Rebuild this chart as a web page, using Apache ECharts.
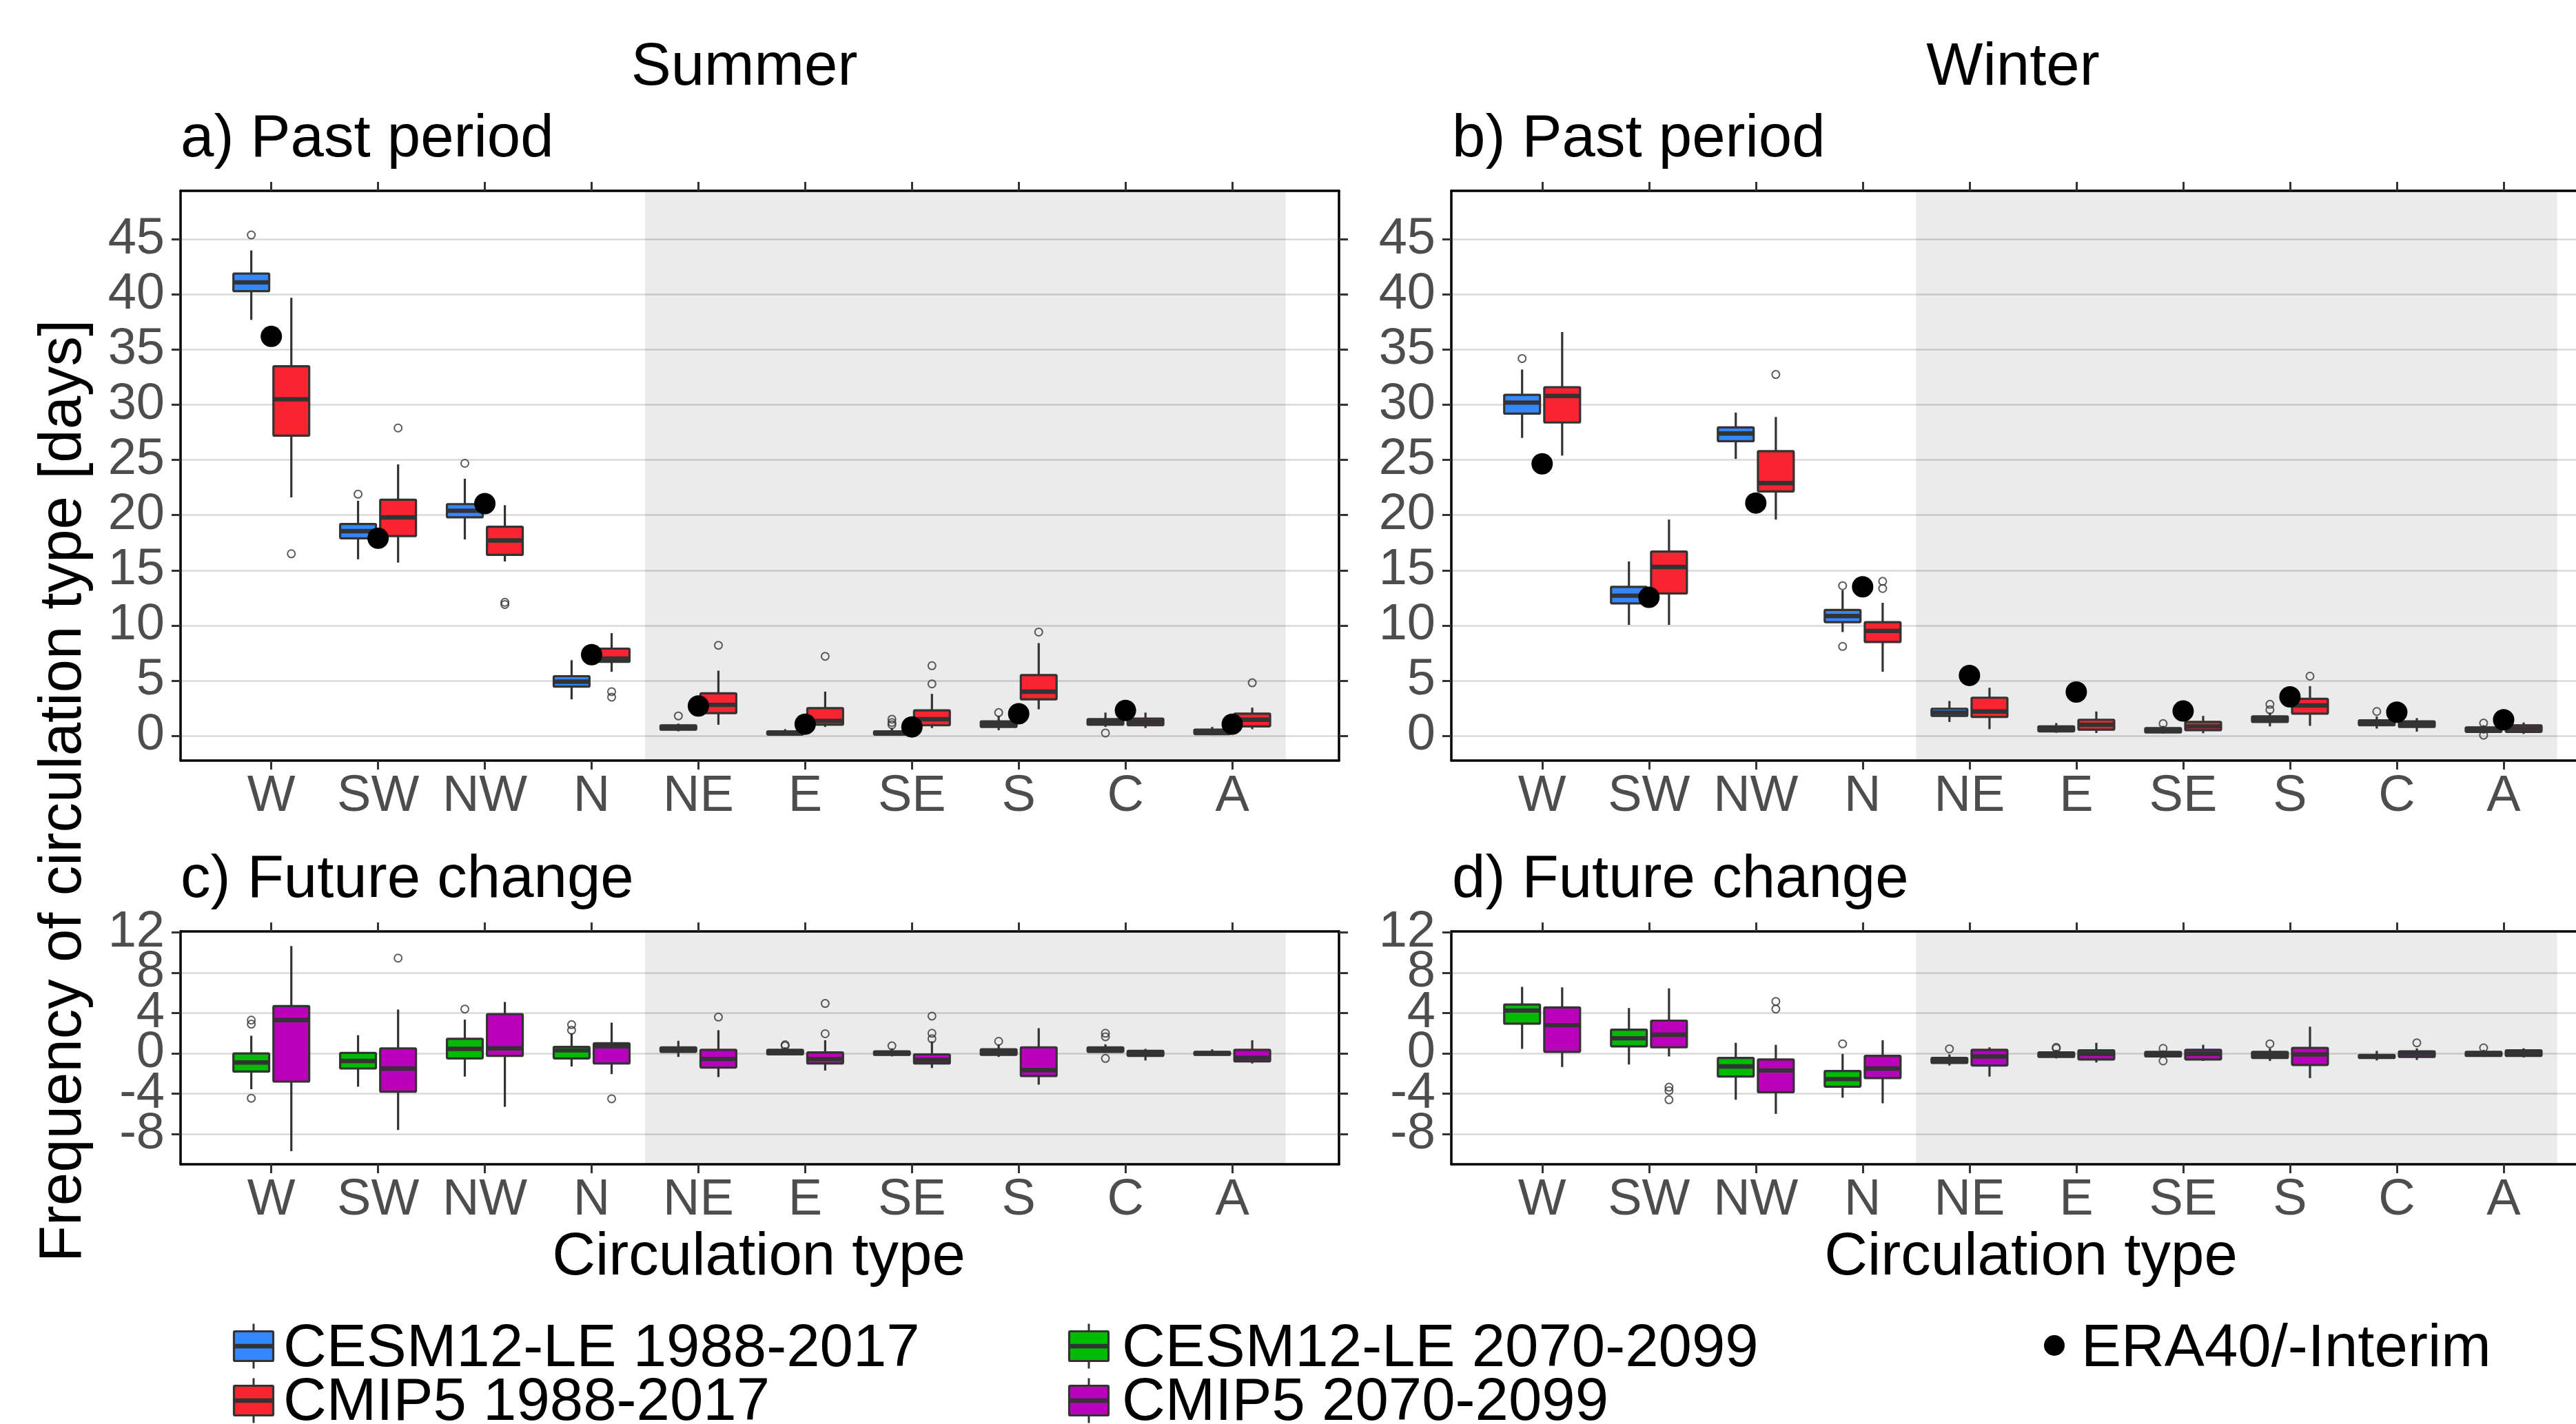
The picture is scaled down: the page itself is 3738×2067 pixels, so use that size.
<!DOCTYPE html>
<html>
<head>
<meta charset="utf-8">
<script src="https://cdn.jsdelivr.net/npm/echarts@6/dist/echarts.min.js"></script>
<style>
html,body{margin:0;padding:0;background:#fff;}
#chart{width:3738px;height:2067px;}
</style>
</head>
<body>
<div id="chart"></div>
<script>
// ---------------- data ----------------
const categories = ['W','SW','NW','N','NE','E','SE','S','C','A'];
const shadedFrom = 'NE';

const pastTicks = [0,5,10,15,20,25,30,35,40,45];
const futureTicks = [-8,-4,0,4,8,12];
const futureGrid = [-8,-4,0,4,8];

// [min, Q1, median, Q3, max] per category
const summerCesmPast = [[37.7,40.3,41.1,41.9,44.0],[16.0,17.9,18.55,19.2,21.3],[17.8,19.8,20.4,21.0,23.3],[3.3,4.45,4.9,5.4,6.85],[0.4,0.55,0.75,0.95,1.1],[0.05,0.1,0.25,0.4,0.6],[0.0,0.1,0.25,0.4,0.7],[0.5,0.8,1.05,1.3,1.8],[0.8,1.0,1.25,1.5,2.1],[0.05,0.15,0.35,0.55,0.8]];
const summerCesmPastOut = [[45.4],[21.9],[24.7],[],[1.8],[],[1.5,1.2,1.0],[2.1],[0.25],[]];
const summerCmipPast = [[21.6,27.2,30.5,33.5,39.7],[15.7,18.1,19.8,21.4,24.6],[15.8,16.4,17.7,18.95,20.9],[5.8,6.7,7.0,7.9,9.3],[1.0,2.05,2.8,3.85,5.9],[0.8,1.0,1.35,2.5,4.0],[0.7,0.95,1.5,2.3,3.8],[2.4,3.3,4.0,5.5,8.4],[0.7,0.95,1.25,1.55,2.1],[0.6,0.85,1.45,2.0,2.55]];
const summerCmipPastOut = [[16.5],[27.9],[12.1,11.9],[4.0,3.5],[8.2],[7.2],[4.7,6.35],[9.4],[],[4.8]];
const summerEra = [36.2,17.9,21.05,7.35,2.7,1.05,0.8,2.0,2.3,1.05];

const winterCesmPast = [[27.0,29.2,30.2,30.9,33.2],[10.05,12.0,12.7,13.5,15.8],[25.1,26.7,27.4,27.95,29.3],[9.4,10.3,10.85,11.4,13.2],[1.25,1.8,2.1,2.45,3.15],[0.27,0.4,0.63,0.85,1.15],[0.2,0.3,0.5,0.7,0.9],[0.85,1.25,1.5,1.75,2.1],[0.65,0.95,1.2,1.4,1.75],[0.2,0.35,0.55,0.75,0.95]];
const winterCesmPastOut = [[34.2],[],[],[13.6,8.1],[],[],[1.1],[2.85,2.35],[2.2],[1.15,0.05]];
const winterCmipPast = [[25.4,28.4,30.8,31.6,36.6],[10.05,12.9,15.3,16.7,19.6],[19.6,22.15,22.9,25.8,28.9],[5.8,8.5,9.5,10.3,12.05],[0.6,1.7,2.2,3.45,4.35],[0.25,0.55,1.0,1.45,2.2],[0.23,0.5,0.85,1.25,1.8],[0.9,2.0,2.75,3.35,4.5],[0.37,0.8,1.05,1.3,1.6],[0.17,0.35,0.65,0.95,1.2]];
const winterCmipPastOut = [[],[],[32.75],[14.0,13.35],[],[],[],[5.4],[],[]];
const winterEra = [24.65,12.55,21.1,13.5,5.47,3.96,2.24,3.53,2.14,1.45];

const summerCesmFuture = [[-3.55,-1.8,-0.9,0.0,1.75],[-3.3,-1.5,-0.75,0.05,1.8],[-2.3,-0.5,0.45,1.45,3.35],[-1.3,-0.5,0.3,0.65,2.0],[-0.35,0.15,0.4,0.6,1.25],[-0.2,-0.1,0.15,0.35,0.6],[-0.3,-0.15,0.0,0.2,0.5],[-0.35,-0.15,0.15,0.4,0.9],[0.05,0.15,0.4,0.6,0.9],[-0.2,-0.15,0.0,0.15,0.4]];
const summerCesmFutureOut = [[3.3,2.9,-4.45],[],[4.4],[2.85,2.3],[],[0.85,0.75],[0.75],[1.2],[2.0,1.65,-0.5],[]];
const summerCmipFuture = [[-9.7,-2.8,3.3,4.7,10.65],[-7.6,-3.8,-1.5,0.5,4.35],[-5.3,-0.25,0.5,3.9,5.1],[-2.05,-1.0,0.7,1.0,3.05],[-2.35,-1.4,-0.55,0.35,2.3],[-1.7,-1.0,-0.55,0.1,1.3],[-1.45,-1.0,-0.65,-0.1,1.2],[-3.1,-2.25,-1.65,0.6,2.5],[-0.7,-0.25,0.0,0.25,0.45],[-1.0,-0.8,-0.45,0.35,1.3]];
const summerCmipFutureOut = [[],[9.45],[],[-4.5],[3.6],[1.95,4.95],[1.45,2.0,3.7],[],[],[]];

const winterCesmFuture = [[0.45,2.95,4.25,4.85,6.6],[-1.1,0.7,1.5,2.35,4.5],[-4.6,-2.3,-1.3,-0.45,1.05],[-4.4,-3.3,-2.55,-1.75,-0.05],[-1.2,-0.95,-0.7,-0.45,-0.1],[-0.5,-0.35,-0.05,0.1,0.35],[-0.4,-0.3,-0.05,0.15,0.3],[-0.75,-0.45,-0.15,0.15,0.5],[-0.7,-0.45,-0.3,-0.15,0.25],[-0.35,-0.25,0.0,0.15,0.35]];
const winterCesmFutureOut = [[],[],[],[0.95],[0.45],[0.6,0.5],[0.5,-0.75],[0.95],[],[0.55]];
const winterCmipFuture = [[-1.35,0.15,2.8,4.55,6.55],[-0.3,0.6,1.85,3.25,6.45],[-6.0,-3.85,-1.7,-0.6,0.85],[-4.95,-2.45,-1.5,-0.25,1.3],[-2.3,-1.2,-0.3,0.35,0.6],[-0.9,-0.6,-0.05,0.3,1.05],[-0.75,-0.6,-0.05,0.35,0.85],[-2.45,-1.15,-0.1,0.55,2.65],[-0.65,-0.35,0.0,0.2,0.5],[-0.4,-0.25,0.0,0.3,0.5]];
const winterCmipFutureOut = [[],[-3.35,-3.7,-4.6],[5.15,4.4],[],[],[],[],[],[1.05],[]];

const legendNames = ['CESM12-LE 1988-2017','CMIP5 1988-2017','CESM12-LE 2070-2099','CMIP5 2070-2099','ERA40/-Interim'];

// ---------------- style ----------------
const FONT = "'Liberation Sans', Arial, Helvetica, sans-serif";
const C_BLUE = '#3388FF', C_RED = '#F8242F', C_GREEN = '#00BB00', C_MAG = '#BB00BB';
const DARK = '#333333';
const BOX_W = 0.335, DODGE = 0.1875;
const X_MIN = 0.15, X_MAX = 11.0;
const catIdx = categories.map((c, i) => i + 1);

const grids = [
  {left: 262, top: 277, width: 1681, height: 827},
  {left: 2106, top: 277, width: 1682, height: 827},
  {left: 262, top: 1352, width: 1681, height: 338},
  {left: 2106, top: 1352, width: 1682, height: 338}
].map(g => Object.assign({containLabel: false, outerBoundsMode: 'none'}, g));
const yRange = [[-2.25, 49.4], [-2.25, 49.4], [-11.0, 12.1], [-11.0, 12.1]];
const yTicks = [pastTicks, pastTicks, futureTicks, futureTicks];
const yGrid = [pastTicks, pastTicks, futureGrid, futureGrid];

const xAxes = [], yAxes = [];
const yLabelStyle = {margin: 23, fontSize: 74, color: '#4D4D4D', fontFamily: FONT, hideOverlap: false, showMinLabel: true, showMaxLabel: true};
grids.forEach((g, gi) => {
  const lineStyle = {color: '#000', width: 3.5};
  const tickStyle = {color: DARK, width: 3};
  xAxes.push({
    gridIndex: gi, type: 'value', position: 'bottom', min: X_MIN, max: X_MAX, z: 20,
    splitLine: {show: false},
    axisLine: {show: true, onZero: false, lineStyle},
    axisTick: {show: true, customValues: catIdx, length: 13, lineStyle: tickStyle},
    axisLabel: {show: true, customValues: catIdx, margin: 16, fontSize: 74, color: '#4D4D4D', fontFamily: FONT,
      hideOverlap: false, showMinLabel: true, showMaxLabel: true,
      formatter: v => categories[Math.round(v) - 1] || ''}
  });
  xAxes.push({
    gridIndex: gi, type: 'value', position: 'top', min: X_MIN, max: X_MAX, z: 20,
    splitLine: {show: false},
    axisLine: {show: true, onZero: false, lineStyle},
    axisTick: {show: true, customValues: catIdx, length: 13, lineStyle: tickStyle},
    axisLabel: {show: false}
  });
  const ticks = yTicks[gi];
  const labelsA = ticks.filter((v, i) => i % 2 === 0);
  const labelsB = ticks.filter((v, i) => i % 2 === 1);
  // main left axis (index 3*gi): line, all ticks, half of labels
  yAxes.push({
    gridIndex: gi, type: 'value', position: 'left', min: yRange[gi][0], max: yRange[gi][1], z: 20,
    splitLine: {show: false},
    axisLine: {show: true, onZero: false, lineStyle},
    axisTick: {show: true, customValues: ticks, length: 13, lineStyle: tickStyle},
    axisLabel: Object.assign({show: true, customValues: labelsA}, yLabelStyle)
  });
  // right axis (index 3*gi+1): ticks only
  yAxes.push({
    gridIndex: gi, type: 'value', position: 'right', min: yRange[gi][0], max: yRange[gi][1], z: 20,
    splitLine: {show: false},
    axisLine: {show: true, onZero: false, lineStyle},
    axisTick: {show: true, customValues: ticks, length: 13, lineStyle: tickStyle},
    axisLabel: {show: false}
  });
  // second left axis (index 3*gi+2): the other labels only
  yAxes.push({
    gridIndex: gi, type: 'value', position: 'left', offset: 0, min: yRange[gi][0], max: yRange[gi][1], z: 20,
    splitLine: {show: false},
    axisLine: {show: false, onZero: false},
    axisTick: {show: false},
    axisLabel: Object.assign({show: true, customValues: labelsB}, yLabelStyle)
  });
});

function boxRenderer(color, offset) {
  return function (params, api) {
    const x = api.value(0) + offset;
    const unit = api.size([1, 0])[0];
    const bw = BOX_W * unit;
    const pMin = api.coord([x, api.value(1)]);
    const pQ1 = api.coord([x, api.value(2)]);
    const pMed = api.coord([x, api.value(3)]);
    const pQ3 = api.coord([x, api.value(4)]);
    const pMax = api.coord([x, api.value(5)]);
    return {
      type: 'group',
      children: [
        {type: 'line', shape: {x1: pMin[0], y1: pMin[1], x2: pMax[0], y2: pMax[1]}, style: {stroke: DARK, lineWidth: 3.2}},
        {type: 'rect', shape: {x: pQ1[0] - bw / 2, y: pQ3[1], width: bw, height: Math.max(pQ1[1] - pQ3[1], 0.5), r: 1.5},
          style: {fill: color, stroke: DARK, lineWidth: 3.2, lineJoin: 'round'}},
        {type: 'line', shape: {x1: pMed[0] - bw / 2, y1: pMed[1], x2: pMed[0] + bw / 2, y2: pMed[1]}, style: {stroke: DARK, lineWidth: 6.4}}
      ]
    };
  };
}

const series = [];
function addPanel(gi, boxesA, outA, colA, boxesB, outB, colB, era) {
  const xi = gi * 2, yi = gi * 3;
  // shaded background
  series.push({
    type: 'custom', xAxisIndex: xi, yAxisIndex: yi, z: 1, silent: true,
    data: [[categories.indexOf(shadedFrom) + 1 - 0.5, categories.length + 0.5]],
    encode: {x: [0, 1]},
    renderItem: function (params, api) {
      const cs = params.coordSys;
      const p0 = api.coord([api.value(0), 0]);
      const p1 = api.coord([api.value(1), 0]);
      return {type: 'rect', shape: {x: p0[0], y: cs.y, width: p1[0] - p0[0], height: cs.height}, style: {fill: '#EBEBEB'}};
    }
  });
  // grid lines
  series.push({
    type: 'line', xAxisIndex: xi, yAxisIndex: yi, data: [], silent: true,
    markLine: {
      silent: true, symbol: 'none', animation: false,
      label: {show: false},
      lineStyle: {type: 'solid', color: 'rgba(0,0,0,0.15)', width: 2.5},
      data: yGrid[gi].map(v => ({yAxis: v}))
    }
  });
  [[boxesA, outA, colA, -DODGE], [boxesB, outB, colB, DODGE]].forEach(([boxes, outs, col, off]) => {
    series.push({
      type: 'custom', xAxisIndex: xi, yAxisIndex: yi, z: 10,
      data: boxes.map((b, i) => [i + 1].concat(b)),
      encode: {x: 0, y: [1, 2, 3, 4, 5]},
      renderItem: boxRenderer(col, off)
    });
    const pts = [];
    outs.forEach((list, i) => list.forEach(v => pts.push([i + 1 + off, v])));
    series.push({
      type: 'scatter', xAxisIndex: xi, yAxisIndex: yi, z: 11, symbol: 'circle', symbolSize: 11,
      itemStyle: {color: 'rgba(0,0,0,0)', borderColor: DARK, borderWidth: 2},
      data: pts
    });
  });
  if (era) {
    series.push({
      type: 'scatter', xAxisIndex: xi, yAxisIndex: yi, z: 12, symbol: 'circle', symbolSize: 31,
      itemStyle: {color: '#000', opacity: 1},
      data: era.map((v, i) => [i + 1, v])
    });
  }
}
addPanel(0, summerCesmPast, summerCesmPastOut, C_BLUE, summerCmipPast, summerCmipPastOut, C_RED, summerEra);
addPanel(1, winterCesmPast, winterCesmPastOut, C_BLUE, winterCmipPast, winterCmipPastOut, C_RED, winterEra);
addPanel(2, summerCesmFuture, summerCesmFutureOut, C_GREEN, summerCmipFuture, summerCmipFutureOut, C_MAG, null);
addPanel(3, winterCesmFuture, winterCesmFutureOut, C_GREEN, winterCmipFuture, winterCmipFutureOut, C_MAG, null);

// ---------------- texts & legend ----------------
function txt(text, x, y, opts) {
  return Object.assign({
    type: 'text', x: x, y: y, z: 30,
    style: Object.assign({text: text, fontSize: 87, fontFamily: FONT, fill: '#000', align: 'left', verticalAlign: 'middle'}, (opts && opts.style) || {})
  }, (opts && opts.el) || {});
}
function legendKey(cx, cy, color) {
  const w = 57, h = 43;
  return {
    type: 'group', z: 30,
    children: [
      {type: 'line', shape: {x1: cx, y1: cy - h / 2 - 11, x2: cx, y2: cy + h / 2 + 11}, style: {stroke: DARK, lineWidth: 3}},
      {type: 'rect', shape: {x: cx - w / 2, y: cy - h / 2, width: w, height: h, r: 1.5}, style: {fill: color, stroke: DARK, lineWidth: 3.2}},
      {type: 'line', shape: {x1: cx - w / 2, y1: cy, x2: cx + w / 2, y2: cy}, style: {stroke: DARK, lineWidth: 6.4}}
    ]
  };
}
const graphics = [
  txt('Summer', 1080, 99, {style: {align: 'center'}}),
  txt('Winter', 2921, 99, {style: {align: 'center'}}),
  txt('a) Past period', 262, 203),
  txt('b) Past period', 2107, 203),
  txt('c) Future change', 262, 1278),
  txt('d) Future change', 2107, 1278),
  txt('Circulation type', 1101, 1826, {style: {align: 'center'}}),
  txt('Circulation type', 2947, 1826, {style: {align: 'center'}}),
  txt('Frequency of circulation type [days]', 93, 1148, {style: {align: 'center'}, el: {rotation: Math.PI / 2}}),
  legendKey(368, 1954, C_BLUE),
  legendKey(368, 2033, C_RED),
  legendKey(1580, 1954, C_GREEN),
  legendKey(1580, 2033, C_MAG),
  {type: 'circle', z: 30, shape: {cx: 2981, cy: 1953, r: 15}, style: {fill: '#000'}},
  txt(legendNames[0], 411, 1959),
  txt(legendNames[1], 411, 2037),
  txt(legendNames[2], 1628, 1959),
  txt(legendNames[3], 1628, 2037),
  txt(legendNames[4], 3020, 1959)
];

const chart = echarts.init(document.getElementById('chart'), null, {renderer: 'canvas'});
chart.setOption({
  backgroundColor: '#ffffff',
  animation: false,
  grid: grids,
  xAxis: xAxes,
  yAxis: yAxes,
  series: series,
  graphic: graphics
});
</script>
</body>
</html>
